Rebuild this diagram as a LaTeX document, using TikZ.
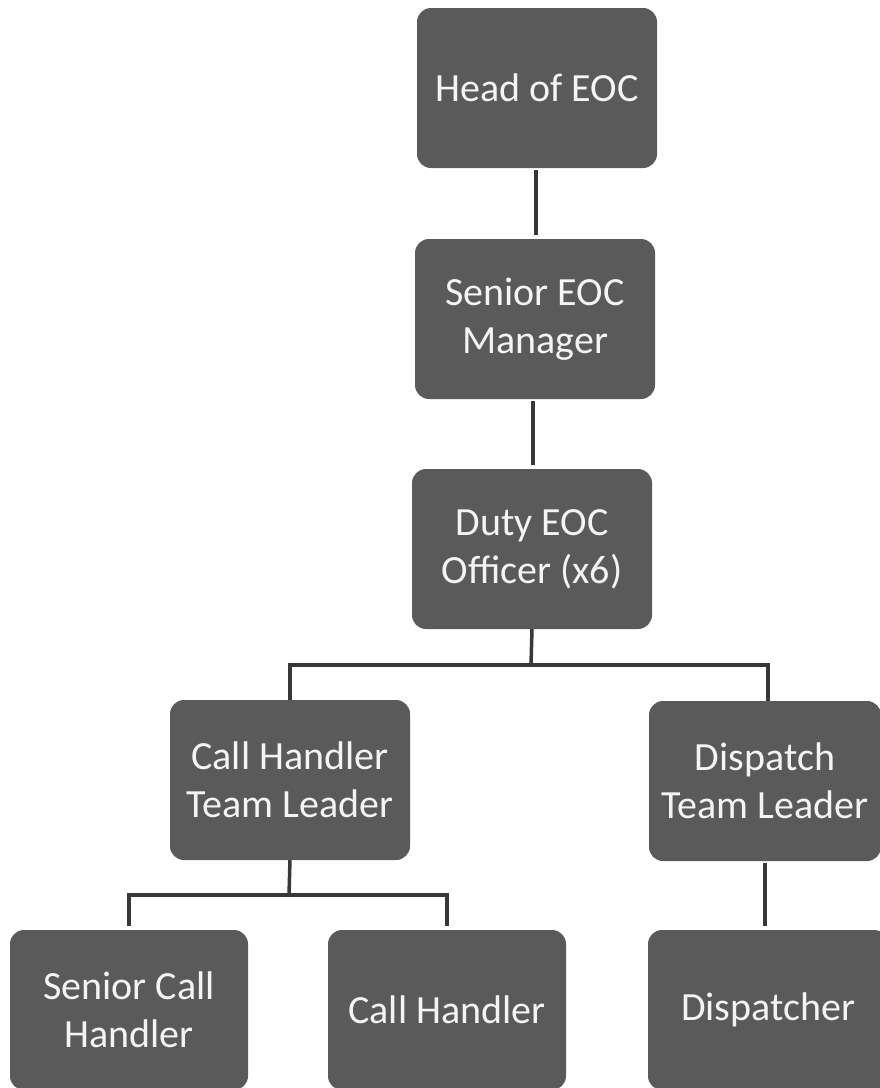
\documentclass[tikz,border=0pt]{standalone}
\usepackage{fontspec}
\setmainfont{Carlito}
\definecolor{boxgrey}{HTML}{5A5A5A}
\definecolor{linegrey}{HTML}{383838}
\definecolor{txt}{HTML}{F4F4F4}
\begin{document}
\begin{tikzpicture}[x=1pt,y=-1pt,
  orgbox/.style={draw=none, fill=boxgrey, rounded corners=14pt, text=txt,
    minimum width=240pt, minimum height=160pt, inner sep=0pt, align=center,
    font=\fontsize{40}{48}\selectfont},
  thick link/.style={draw=linegrey, line width=4.5pt},
  thin link/.style={draw=linegrey, line width=3.5pt}]
\useasboundingbox (0,0) rectangle (880,1088);
\clip (0,0) rectangle (880,1088);
\fill[white] (0,0) rectangle (880,1088);

\node[orgbox] (head)   at (537,88)   {Head of EOC};
\node[orgbox] (senior) at (535,319)  {Senior EOC\\Manager};
\node[orgbox] (duty)   at (532,549)  {Duty EOC\\Officer (x6)};
\node[orgbox] (chtl)   at (290,780)  {Call Handler\\Team Leader};
\node[orgbox, minimum width=232pt] (dtl) at (765,781) {Dispatch\\Team Leader};
\node[orgbox, minimum width=238pt] (sch)  at (129,1010) {Senior Call\\Handler};
\node[orgbox, minimum width=238pt] (ch)   at (447,1010) {Call Handler};
\node[orgbox] (disp) at (768,1010) {Dispatcher};

\coordinate (j1) at (531,665);
\coordinate (j2) at (289,895);

\draw[thick link] ([yshift=-2pt,xshift=-1pt]head.south) -- ([yshift=4pt,xshift=-1pt]head.south |- senior.north);
\draw[thick link] ([yshift=-2pt,xshift=-2pt]senior.south) -- ([yshift=4pt,xshift=-2pt]senior.south |- duty.north);
\draw[thin link] (duty.south) -- (j1);
\draw[thin link, line join=miter] (chtl.north) |- (j1) -| ([xshift=3pt]dtl.north);
\draw[thin link] (chtl.south) -- (j2);
\draw[thin link, line join=miter] ([yshift=4pt]sch.north) |- (j2) -| ([yshift=4pt]ch.north);
\draw[thick link] ([yshift=-2pt]dtl.south) -- ([yshift=4pt]dtl.south |- disp.north);
\end{tikzpicture}
\end{document}
